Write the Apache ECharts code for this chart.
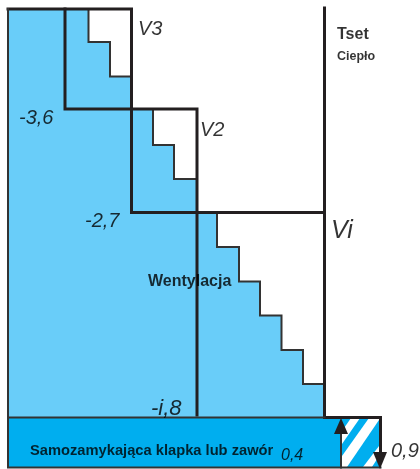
<!DOCTYPE html>
<html>
<head>
<meta charset="utf-8">
<style>
  html, body { margin: 0; padding: 0; background: #fff; }
  #chart { width: 420px; height: 469px; }
</style>
<script src="https://cdn.jsdelivr.net/npm/echarts@6/dist/echarts.min.js"></script>
</head>
<body>
<div id="chart"></div>
<script>
// schematic units are the picture's own pixels, y grows downwards
const fillOutline = [[8,9],[88.5,9],[88.5,42],[110,42],[110,76.5],[131.5,76.5],[131.5,109],[153,109],[153,145],[174,145],[174,179],[197,179],[197,212.5],[217,212.5],[217,247],[239,247],[239,281.5],[260,281.5],[260,315.5],[281.5,315.5],[281.5,350],[303,350],[303,384],[324.5,384],[324.5,417.5],[8,417.5]];
const bandBox = [[8,417.5],[341,417.5],[341,467.5],[8,467.5]];
const hatchBox = [[341,417.5],[380.5,417.5],[380.5,467.5],[341,467.5]];
const hatchStripes = [
  [[342,431],[351,418],[360,418],[342,444]],
  [[342,456],[369,418],[379,418],[379,420],[347,467],[342,467]],
  [[363,467],[379,446],[379,456],[372,467]]
];

// step lines inside the three boxes
const stepsV3 = [[88.5,9],[88.5,42],[110,42],[110,76.5],[131.5,76.5]];
const stepsV2 = [[153,109],[153,145],[174,145],[174,179],[197,179]];
const stepsVi = [[217,212.5],[217,247],[239,247],[239,281.5],[260,281.5],[260,315.5],[281.5,315.5],[281.5,350],[303,350],[303,384],[324.5,384]];

// heavy frames
const frameTop = [[8,9],[131.5,9],[131.5,109],[197,109],[197,212.5],[324.5,212.5]];
const frameV3 = [[65,9],[65,109],[131.5,109],[131.5,212.5],[197,212.5],[197,415]];
const frameRight = [[324.5,8],[324.5,417.5],[380.5,417.5],[380.5,455]];
const frameLeft = [[8,9],[8,467.5],[341,467.5],[341,430]];
const frameBand = [[8,417.5],[324.5,417.5]];
const frameBottom = [[341,467.5],[380.5,467.5]];

// arrow heads
const arrowUp = [[341,418],[348,434],[334,434]];
const arrowDown = [[380,469],[373,452],[387,452]];

// labels: text, x, y, style name
const labels = [
  ['V3', 138, 29, 'ital'],
  ['-3,6', 19, 118, 'ital'],
  ['V2', 200, 130, 'ital'],
  ['-2,7', 85, 221, 'ital'],
  ['Vi', 331, 231, 'italWide'],
  ['-i,8', 151, 409, 'italWide2'],
  ['Wentylacja', 148, 282, 'boldBig'],
  ['Tset', 337, 35, 'boldBig'],
  ['Ciepło', 337, 57, 'boldSmall'],
  ['Samozamykająca klapka lub zawór', 30, 451, 'bold'],
  ['0,4', 281, 456, 'italSmall'],
  ['0,9', 391, 451, 'italBig']
];

const FONT = '"Liberation Sans", Arial, sans-serif';
const labelStyles = {
  ital: { fontStyle: 'italic', fontSize: 20 },
  italBig: { fontStyle: 'italic', fontSize: 20 },
  italWide: { fontStyle: 'italic', fontSize: 25 },
  italWide2: { fontStyle: 'italic', fontSize: 22 },
  italSmall: { fontStyle: 'italic', fontSize: 16 },
  bold: { fontWeight: 'bold', fontSize: 14.7 },
  boldBig: { fontWeight: 'bold', fontSize: 16 },
  boldSmall: { fontWeight: 'bold', fontSize: 12.5 }
};

function poly(points, color, z) {
  return {
    type: 'custom',
    coordinateSystem: 'cartesian2d',
    silent: true,
    animation: false,
    z: z,
    data: [0],
    renderItem: function (params, api) {
      return {
        type: 'polygon',
        shape: { points: points.map(function (p) { return api.coord(p); }) },
        style: { fill: color }
      };
    }
  };
}

function line(points, width, color, z) {
  return {
    type: 'line',
    data: points,
    symbol: 'none',
    silent: true,
    animation: false,
    z: z,
    clip: false,
    lineStyle: { width: width, color: color, join: 'miter', cap: 'square' }
  };
}

const series = [
  poly(fillOutline, '#69cdf9', 1),
  poly(bandBox, '#00aeef', 1),
  poly(hatchBox, '#00aeef', 1)
];
hatchStripes.forEach(function (s) { series.push(poly(s, '#ffffff', 2)); });

[stepsV3, stepsV2, stepsVi].forEach(function (s) { series.push(line(s, 2, '#333333', 3)); });
series.push(line(frameTop, 3, '#231f20', 4));
series.push(line(frameV3, 3, '#231f20', 4));
series.push(line(frameRight, 3, '#231f20', 4));
series.push(line(frameLeft, 2, '#333333', 4));
series.push(line(frameBand, 2, '#333333', 4));
series.push(line(frameBottom, 2, '#333333', 4));
series.push(poly(arrowUp, '#231f20', 5));
series.push(poly(arrowDown, '#231f20', 5));

series.push({
  type: 'scatter',
  symbolSize: 0,
  silent: true,
  animation: false,
  z: 6,
  data: labels.map(function (l) {
    return {
      value: [l[1], l[2]],
      label: Object.assign({
        show: true,
        position: 'inside',
        align: 'left',
        verticalAlign: 'middle',
        formatter: l[0],
        color: '#000000',
        fontFamily: FONT
      }, labelStyles[l[3]])
    };
  })
});

const chart = echarts.init(document.getElementById('chart'), null, { renderer: 'canvas' });
chart.setOption({
  animation: false,
  backgroundColor: '#ffffff',
  grid: { left: 0, right: 0, top: 0, bottom: 0 },
  xAxis: { type: 'value', min: 0, max: 420, show: false },
  yAxis: { type: 'value', min: 0, max: 469, inverse: true, show: false },
  series: series
});
</script>
</body>
</html>
